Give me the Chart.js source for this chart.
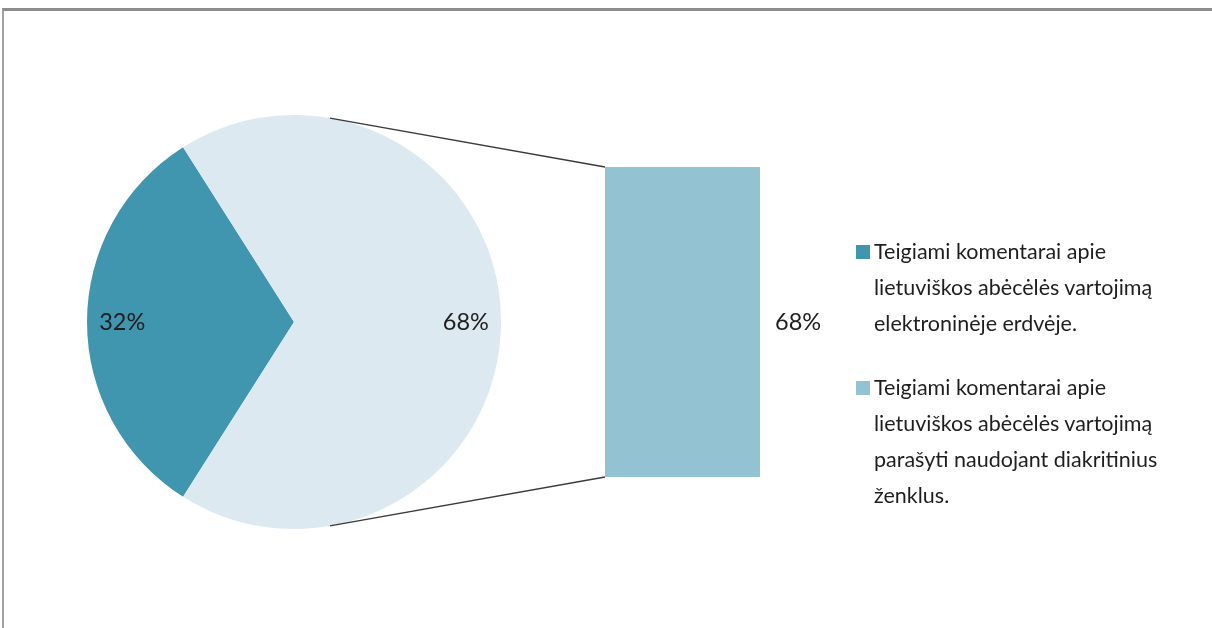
<!DOCTYPE html>
<html>
<head>
<meta charset="utf-8">
<script src="https://cdn.jsdelivr.net/npm/chart.js@4.4.1/dist/chart.umd.min.js"></script>
<style>
  html, body { margin: 0; padding: 0; background: #fff; overflow: hidden; }
  #wrap { position: relative; width: 1212px; height: 628px; }
  #frame {
    position: absolute; left: 2px; top: 8px; width: 1300px; height: 700px;
    border-top: 3px solid #8c8c8c; border-left: 2px solid #a0a0a0;
  }
  #pie { position: absolute; left: 0; top: 0; }
  #bar { position: absolute; left: 595px; top: 157px; }
  #legend {
    position: absolute; left: 856px; top: 233px;
    font-family: Lato, "Open Sans", sans-serif; font-size: 21.5px; color: #1e1e1e;
  }
  .item { display: flex; margin-bottom: 28px; }
  .box { width: 14px; height: 14px; margin-top: 12px; margin-right: 4px; flex: none; }
  .txt div { line-height: 36px; white-space: nowrap; }
</style>
</head>
<body>
<div id="wrap">
  <div id="frame"></div>
  <canvas id="pie" width="1212" height="628"></canvas>
  <canvas id="bar" width="240" height="330"></canvas>
  <div id="legend"></div>
</div>
<script>
// data
const pieLabels = ['Teigiami komentarai apie lietuviškos abėcėlės vartojimą elektroninėje erdvėje.',
                   'Teigiami komentarai apie lietuviškos abėcėlės vartojimą parašyti naudojant diakritinius ženklus.'];
const pieValues = [32, 68];
const barValues = [68];
const legendLines = [
  ['Teigiami komentarai apie', 'lietuviškos abėcėlės vartojimą', 'elektroninėje erdvėje.'],
  ['Teigiami komentarai apie', 'lietuviškos abėcėlės vartojimą', 'parašyti naudojant diakritinius', 'ženklus.']
];

const pieColors = ['#4096ae', '#dde9f0'];
const barColor = '#93c2d3';
const legendColors = ['#4096ae', '#93c2d3'];
const labelFont = '23.5px Lato, "Open Sans", sans-serif';

Chart.defaults.animation = false;

// bar (second plot) – made first so the pie can draw the connector lines to it
const barChart = new Chart(document.getElementById('bar'), {
  type: 'bar',
  data: {
    labels: ['68%'],
    datasets: [{ data: barValues, backgroundColor: barColor, borderWidth: 0,
                 barPercentage: 1, categoryPercentage: 1 }]
  },
  options: {
    responsive: false,
    layout: { padding: { left: 10, top: 10, right: 75, bottom: 10 } },
    scales: {
      x: { display: false },
      y: { display: false, min: 0, max: 68 }
    },
    plugins: { legend: { display: false }, tooltip: { enabled: false } }
  },
  plugins: [{
    id: 'barLabel',
    afterDatasetsDraw(chart) {
      const el = chart.getDatasetMeta(0).data[0];
      const ctx = chart.ctx;
      ctx.save();
      ctx.font = labelFont;
      ctx.fillStyle = '#1e1e1e';
      ctx.textAlign = 'left';
      ctx.textBaseline = 'middle';
      ctx.fillText(barValues[0] + '%', el.x + el.width / 2 + 15, (el.y + el.base) / 2);
      ctx.restore();
    }
  }]
});

const pieCanvas = document.getElementById('pie');
const barCanvas = document.getElementById('bar');

new Chart(pieCanvas, {
  type: 'pie',
  data: {
    labels: pieLabels,
    datasets: [{ data: pieValues, backgroundColor: pieColors, borderWidth: 0 }]
  },
  options: {
    responsive: false,
    // first slice centred on the left side of the pie
    rotation: 270 - pieValues[0] * 3.6 / 2,
    layout: { padding: { left: 87, top: 115, right: 711, bottom: 99 } },
    plugins: { legend: { display: false }, tooltip: { enabled: false } }
  },
  plugins: [{
    id: 'pieExtras',
    afterDatasetsDraw(chart) {
      const ctx = chart.ctx;
      const arcs = chart.getDatasetMeta(0).data;
      ctx.save();
      // percent labels
      ctx.font = labelFont;
      ctx.fillStyle = '#1e1e1e';
      ctx.textAlign = 'center';
      ctx.textBaseline = 'middle';
      arcs.forEach((a, i) => {
        const mid = (a.startAngle + a.endAngle) / 2;
        const rr = a.outerRadius * 0.83;
        ctx.fillText(pieValues[i] + '%', a.x + Math.cos(mid) * rr, a.y + Math.sin(mid) * rr);
      });
      // connector lines to the bar
      const a = arcs[0];
      const b = barChart.getDatasetMeta(0).data[0];
      const offX = barCanvas.offsetLeft - pieCanvas.offsetLeft;
      const offY = barCanvas.offsetTop - pieCanvas.offsetTop;
      const bx = b.x - b.width / 2 + offX;
      const ang = 80 * Math.PI / 180;
      ctx.strokeStyle = '#3a3a3a';
      ctx.lineWidth = 1.3;
      ctx.beginPath();
      ctx.moveTo(a.x + Math.cos(ang) * a.outerRadius, a.y - Math.sin(ang) * a.outerRadius);
      ctx.lineTo(bx, b.y + offY);
      ctx.moveTo(a.x + Math.cos(ang) * a.outerRadius, a.y + Math.sin(ang) * a.outerRadius);
      ctx.lineTo(bx, b.base + offY);
      ctx.stroke();
      ctx.restore();
    }
  }]
});

// legend
const legend = document.getElementById('legend');
legendLines.forEach((lines, i) => {
  const item = document.createElement('div');
  item.className = 'item';
  const box = document.createElement('div');
  box.className = 'box';
  box.style.background = legendColors[i];
  const txt = document.createElement('div');
  txt.className = 'txt';
  lines.forEach(l => {
    const d = document.createElement('div');
    d.textContent = l;
    txt.appendChild(d);
  });
  item.appendChild(box);
  item.appendChild(txt);
  legend.appendChild(item);
});
</script>
</body>
</html>
